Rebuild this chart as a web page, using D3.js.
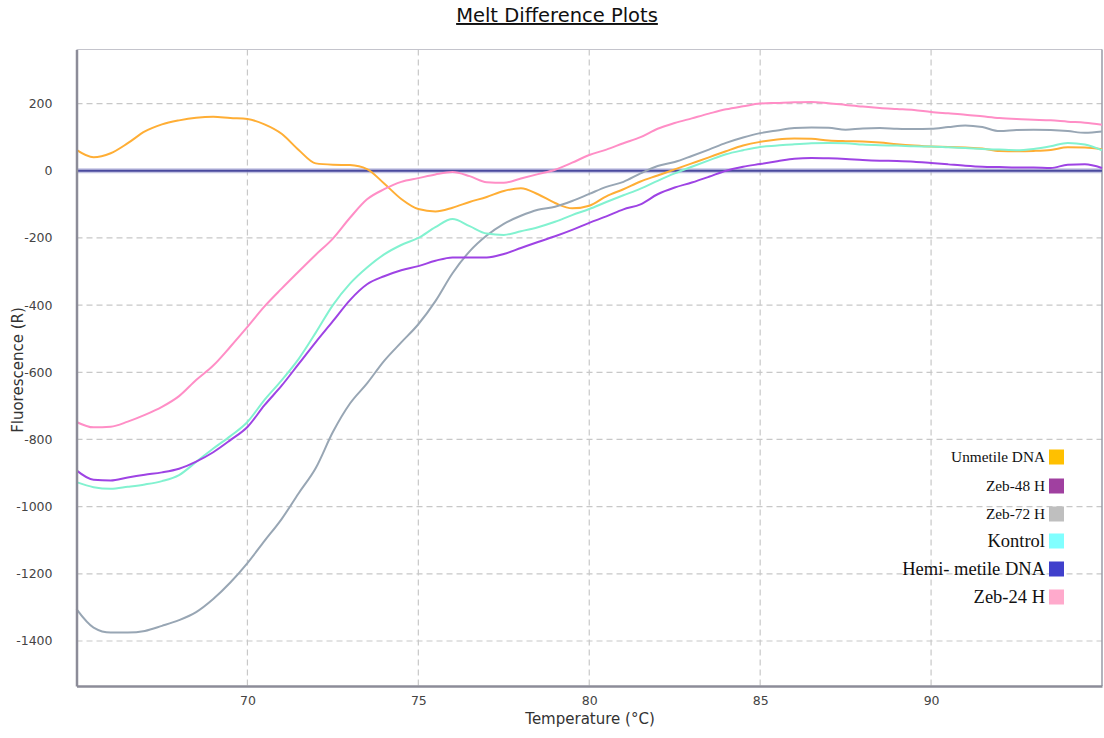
<!DOCTYPE html>
<html>
<head>
<meta charset="utf-8">
<script src="https://cdn.jsdelivr.net/npm/d3@7"></script>
<style>
  html, body { margin: 0; padding: 0; background: #fff; }
  svg { display: block; }
</style>
</head>
<body>
<svg id="chart" width="1104" height="738"></svg>
<script>
// ---- data ----
const temps = d3.range(65, 95.001, 0.5);

const unmetile = [62,40,52,82,117,138,150,158,161,157,154,138,110,62,22,18,17,5,-38,-84,-114,-121,-110,-93,-78,-60,-52,-70,-96,-112,-104,-76,-55,-32,-14,4,22,40,58,75,86,93,96,95,90,88,87,84,79,75,72,71,69,66,59,58,59,62,70,69,64];
const zeb48 = [-892,-920,-922,-913,-905,-898,-887,-866,-838,-802,-763,-698,-640,-575,-510,-448,-385,-338,-314,-296,-284,-268,-258,-258,-258,-248,-230,-212,-195,-176,-155,-136,-115,-100,-70,-50,-35,-18,0,12,20,28,36,38,37,35,32,30,29,27,23,19,15,12,11,10,10,8,18,19,8];
const zeb72 = [-1305,-1360,-1375,-1375,-1370,-1355,-1338,-1314,-1275,-1226,-1168,-1102,-1037,-960,-885,-778,-693,-633,-566,-511,-457,-388,-305,-240,-193,-158,-134,-116,-107,-90,-69,-48,-33,-8,14,26,44,63,83,99,112,120,127,129,128,122,126,127,125,124,125,130,135,130,118,121,122,121,118,113,117];
const kontrol = [-927,-942,-947,-941,-934,-924,-906,-867,-827,-790,-748,-682,-624,-560,-482,-400,-336,-288,-249,-221,-200,-168,-144,-165,-187,-191,-180,-168,-152,-132,-114,-93,-73,-53,-30,-8,12,31,49,61,71,75,79,82,83,82,78,76,75,73,72,70,68,65,63,61,65,73,83,78,61];
const hemi = temps.map(() => 0);
const zeb24 = [-748,-764,-762,-747,-727,-703,-671,-623,-580,-524,-465,-404,-351,-300,-250,-202,-140,-85,-55,-33,-22,-11,-4,-16,-34,-36,-23,-10,3,24,47,63,82,100,125,142,156,170,183,192,200,202,204,205,201,196,191,187,184,181,175,171,167,162,157,154,152,150,146,143,137];

const xTicks = [70, 75, 80, 85, 90];
const yTicks = [200, 0, -200, -400, -600, -800, -1000, -1200, -1400];

const legendNames = ["Unmetile DNA", "Zeb-48 H", "Zeb-72 H", "Kontrol", "Hemi- metile DNA", "Zeb-24 H"];
const legendColors = ["#FFC000", "#A040A0", "#BFBFBF", "#80FFFF", "#4040CC", "#FFAACC"];
const legendFontSizes = [15.3, 15.3, 15.3, 18.5, 18.5, 18.5];

const seriesList = [
  { name: "Unmetile DNA", values: unmetile, color: "#FFAE35", width: 2 },
  { name: "Zeb-24 H", values: zeb24, color: "#FF8EC6", width: 2 },
  { name: "Zeb-72 H", values: zeb72, color: "#98A6B4", width: 2 },
  { name: "Kontrol", values: kontrol, color: "#82F2D0", width: 2 },
  { name: "Zeb-48 H", values: zeb48, color: "#9E43E4", width: 2 },
];

// ---- layout ----
const svg = d3.select("#chart");
const pLeft = 76.5, pRight = 1102, pTop = 49.5, pBottom = 686;

const x = d3.scaleLinear().domain([65, 95]).range([pLeft, pRight]);
const y = d3.scaleLinear().domain([-1534, 361]).range([pBottom, pTop]);

// Title
svg.append("text")
  .attr("x", 557).attr("y", 22)
  .attr("text-anchor", "middle")
  .attr("font-family", "DejaVu Sans, Verdana, sans-serif")
  .attr("font-size", 19.5)
  .attr("fill", "#111")
  .attr("text-decoration", "underline")
  .text("Melt Difference Plots");

// Grid
const grid = svg.append("g");
grid.selectAll("line.gx").data(xTicks).join("line")
  .attr("x1", d => x(d)).attr("x2", d => x(d))
  .attr("y1", pTop).attr("y2", pBottom)
  .attr("stroke", "#c8c8c8").attr("stroke-width", 1.2)
  .attr("stroke-dasharray", "6,4");
grid.selectAll("line.gy").data(yTicks).join("line")
  .attr("x1", pLeft).attr("x2", pRight)
  .attr("y1", d => y(d)).attr("y2", d => y(d))
  .attr("stroke", "#c8c8c8").attr("stroke-width", 1.2)
  .attr("stroke-dasharray", "6,4");

// Frame
svg.append("line").attr("x1", pLeft).attr("x2", pRight).attr("y1", pTop).attr("y2", pTop)
  .attr("stroke", "#c4c4cc").attr("stroke-width", 1.2);
svg.append("line").attr("x1", pRight).attr("x2", pRight).attr("y1", pTop).attr("y2", pBottom)
  .attr("stroke", "#9a9aa6").attr("stroke-width", 1.5);

// Lines
const line = d3.line()
  .x((d, i) => x(temps[i]))
  .y(d => y(d))
  .curve(d3.curveMonotoneX);

const plot = svg.append("g");
plot.append("path").datum(hemi).attr("d", line)
  .attr("fill", "none").attr("stroke", "#9c9cd0").attr("stroke-width", 5).attr("opacity", 0.6);
plot.append("path").datum(hemi).attr("d", line)
  .attr("fill", "none").attr("stroke", "#4a4a9e").attr("stroke-width", 2.2);

seriesList.forEach(s => {
  plot.append("path").datum(s.values).attr("d", line)
    .attr("fill", "none").attr("stroke", s.color).attr("stroke-width", s.width)
    .attr("stroke-linejoin", "round");
});

// Axes
const fmt = d => String(d);
const xAxis = d3.axisBottom(x).tickValues(xTicks).tickSize(0).tickPadding(10).tickFormat(fmt);
const gx = svg.append("g").attr("transform", `translate(0,${pBottom})`).call(xAxis);
gx.select(".domain").attr("stroke", "#8c8c98").attr("stroke-width", 2.5);
gx.selectAll("text").attr("font-family", "DejaVu Sans, Tahoma, sans-serif").attr("font-size", 12.5).attr("fill", "#444");

const yAxis = d3.axisLeft(y).tickValues(yTicks).tickSize(0).tickPadding(24).tickFormat(fmt);
const gy = svg.append("g").attr("transform", `translate(${pLeft},0)`).call(yAxis);
gy.select(".domain").attr("stroke", "#8c8c98").attr("stroke-width", 2.5);
gy.selectAll("text").attr("font-family", "DejaVu Sans, Tahoma, sans-serif").attr("font-size", 12.5).attr("fill", "#444");

// Axis titles
svg.append("text")
  .attr("x", 590).attr("y", 724)
  .attr("text-anchor", "middle")
  .attr("font-family", "DejaVu Sans, Tahoma, sans-serif")
  .attr("font-size", 15).attr("fill", "#333")
  .text("Temperature (°C)");
svg.append("text")
  .attr("transform", "translate(23,370) rotate(-90)")
  .attr("text-anchor", "middle")
  .attr("font-family", "DejaVu Sans, Tahoma, sans-serif")
  .attr("font-size", 15).attr("fill", "#333")
  .text("Fluorescence (R)");

// Legend
const legendY = [457, 486, 514, 541, 569, 597];
const lg = svg.append("g");
legendNames.forEach((n, i) => {
  lg.append("rect")
    .attr("x", 1049).attr("y", legendY[i] - 7.5)
    .attr("width", 15).attr("height", 15)
    .attr("fill", legendColors[i]);
  lg.append("text")
    .attr("x", 1045).attr("y", legendY[i])
    .attr("dy", "0.35em")
    .attr("text-anchor", "end")
    .attr("font-family", "Liberation Serif, Times New Roman, serif")
    .attr("font-size", legendFontSizes[i])
    .attr("fill", "#111")
    .text(n);
});
</script>
</body>
</html>
